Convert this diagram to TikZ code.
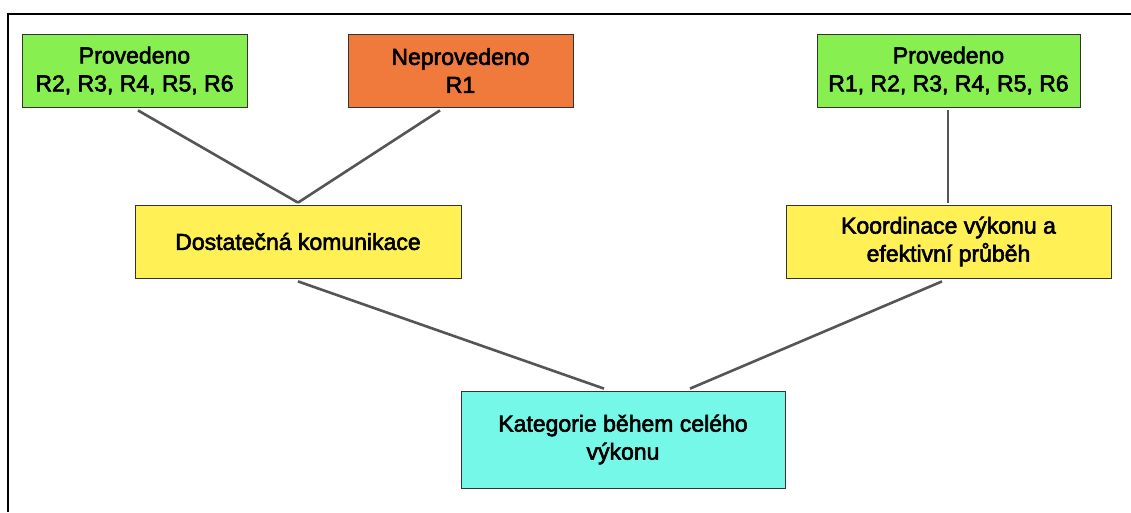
\documentclass[tikz,border=0pt]{standalone}
\usepackage{fontspec}
\setmainfont{Liberation Sans}
\definecolor{cgreen}{HTML}{87EF4F}
\definecolor{corange}{HTML}{F07A3C}
\definecolor{cyellow}{HTML}{FEF055}
\definecolor{ccyan}{HTML}{76F8E8}
\definecolor{cborder}{HTML}{333333}
\definecolor{cline}{HTML}{555555}
\newcommand{\medtext}{\special{pdf:literal direct 2 Tr 0.6 w 0 G}}
\begin{document}
\begin{tikzpicture}[x=1pt,y=-1pt,
  box/.style={draw=cborder,line width=0.8pt,rectangle,align=center,inner sep=0pt,
    minimum height=73pt,font=\fontsize{23}{28}\selectfont\medtext},
  conn/.style={draw=cline,line width=2.6pt}]
\useasboundingbox (0,0) rectangle (1131,512);
\fill[white] (0,0) rectangle (1131,512);
\draw[line width=2pt,black] (1131,14) -- (8,14) -- (8,512);
\node[box,fill=cgreen,minimum width=225pt] (A) at (134.5,70.5) {Provedeno\\R2, R3, R4, R5, R6};
\node[box,fill=corange,minimum width=225pt] (B) at (460.5,70.5) {Neprovedeno\\R1};
\node[box,fill=cgreen,minimum width=263pt] (C) at (948.5,70.5) {Provedeno\\R1, R2, R3, R4, R5, R6};
\node[box,fill=cyellow,minimum width=326pt] (D) at (298,241.5) {Dostatečná komunikace};
\node[box,fill=cyellow,minimum width=325pt] (E) at (948.5,241.5) {Koordinace výkonu a\\efektivní průběh};
\node[box,fill=ccyan,minimum width=324pt,minimum height=97pt] (F) at (623,439.5) {Kategorie během celého\\výkonu};
\draw[conn] ([xshift=3.5pt,yshift=-3pt]A.south) -- ([yshift=2pt]D.north);
\draw[conn] ([xshift=-20.5pt,yshift=-3pt]B.south) -- ([yshift=2pt]D.north);
\draw[conn] ([xshift=-0.5pt,yshift=-3pt]C.south) -- ([xshift=-0.5pt,yshift=2pt]E.north);
\draw[conn] ([yshift=-3pt]D.south) -- ([xshift=-19pt,yshift=2pt]F.north);
\draw[conn] ([xshift=-6.5pt,yshift=-3pt]E.south) -- ([xshift=67pt,yshift=2pt]F.north);
\end{tikzpicture}
\end{document}
